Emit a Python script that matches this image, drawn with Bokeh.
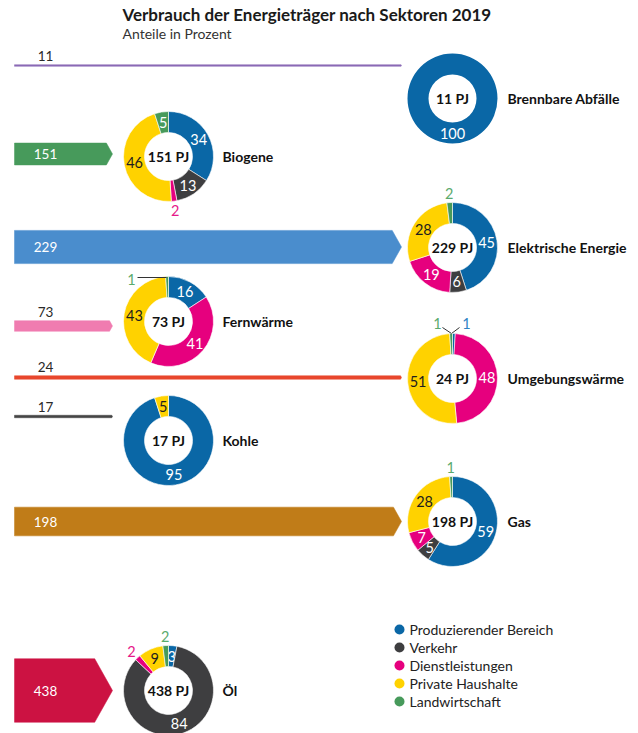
import math
from bokeh.plotting import figure
from bokeh.models import Range1d
from bokeh.core.properties import value
from bokeh.embed import file_html
from bokeh.resources import INLINE

# ---------------- data ----------------
carriers = ["Brennbare Abfälle", "Biogene", "Elektrische Energie", "Fernwärme",
            "Umgebungswärme", "Kohle", "Gas", "Öl"]
totals_pj = [11, 151, 229, 73, 24, 17, 198, 438]

sectors = ["Produzierender Bereich", "Verkehr", "Dienstleistungen",
           "Private Haushalte", "Landwirtschaft"]
share_produzierend = [100, 34, 45, 16, 1, 95, 59, 3]
share_verkehr = [0, 13, 6, 0, 0, 0, 5, 84]
share_dienstleistungen = [0, 2, 19, 41, 48, 0, 7, 2]
share_haushalte = [0, 46, 28, 43, 51, 5, 28, 9]
share_landwirtschaft = [0, 5, 2, 1, 1, 0, 1, 2]

title = "Verbrauch der Energieträger nach Sektoren 2019"
subtitle = "Anteile in Prozent"

# ---------------- styles / layout ----------------
sector_colors = ["#0a67a6", "#3e3e40", "#e6007e", "#ffd200", "#479a5b"]
sector_label_colors = ["white", "white", "white", "#1e1e1e", "white"]
outside_label_colors = ["#2f83c4", "#3e3e40", "#e6198a", "#c9a400", "#5aaa6c"]
bar_colors = ["#8a6bb6", "#479a5b", "#4a8dcd", "#f07cb0", "#e8472d",
              "#454545", "#c07c18", "#cc1242"]

side = ["R", "L", "R", "L", "R", "L", "R", "L"]
bar_cy = [65, 153.5, 246.5, 325.5, 377, 416, 521, 690]
donut_cy = [98, 156, 247, 321, 378, 440, 521, 690]
donut_cx = {"L": 168, "R": 452}
bar_end = {"L": 112, "R": 401}
name_x = {"L": 222, "R": 507}
BAR_X0 = 14
PX_PER_PJ = 0.145
R_OUT, R_IN = 45, 24
R_LABEL, R_OUTSIDE = 34.5, 54

# special placements for tiny segments (offset from ring centre, leader line)
label_override = {
    (3, 4): ((-37, -42), [(-2, -44), (-31, -44)]),
    (4, 4): ((-15, -55), [(-1, -45), (-10, -51)]),
    (4, 0): ((14, -55), [(-1, -45), (7, -51)]),
}

FONT = value("Lato")
PAGE_H = 733
W, H = 638, 733


def Y(sy):
    return PAGE_H - sy


p = figure(width=W, height=H, x_range=Range1d(0, W),
           y_range=Range1d(PAGE_H - H, PAGE_H),
           output_backend="svg", toolbar_location=None,
           x_axis_location=None, y_axis_location=None,
           min_border=0, outline_line_color=None)
p.grid.visible = False
p.background_fill_color = "white"

# ---------------- title ----------------
p.text(x=[122], y=[Y(14)], text=[title], text_font=FONT, text_font_style="bold",
       text_font_size="17px", text_color="#1a1a1a", text_baseline="middle",
       text_align="left")
p.text(x=[122], y=[Y(33)], text=[subtitle], text_font=FONT,
       text_font_size="14px", text_color="#333333", text_baseline="middle",
       text_align="left")

# ---------------- flow bars ----------------
bx, by = [], []
for i, v in enumerate(totals_pj):
    t = v * PX_PER_PJ
    xe = bar_end[side[i]]
    tip = 0.28 * t
    cy = bar_cy[i]
    bx.append([BAR_X0, xe - tip, xe, xe - tip, BAR_X0])
    by.append([Y(cy - t / 2), Y(cy - t / 2), Y(cy), Y(cy + t / 2), Y(cy + t / 2)])
p.patches(bx, by, fill_color=bar_colors, line_color=bar_colors, line_width=0.5)

for i, v in enumerate(totals_pj):
    t = v * PX_PER_PJ
    if t > 15:
        ly, col = bar_cy[i], "white"
    else:
        ly, col = bar_cy[i] - t / 2 - 8.5, "#2a2a2a"
    p.text(x=[45], y=[Y(ly)], text=[str(v)], text_font=FONT, text_font_size="13.5px",
           text_color=col, text_baseline="middle", text_align="center")

# ---------------- donuts ----------------
shares = [share_produzierend, share_verkehr, share_dienstleistungen,
          share_haushalte, share_landwirtschaft]

for i, v in enumerate(totals_pj):
    cx = donut_cx[side[i]]
    cy = donut_cy[i]
    row = [s[i] for s in shares]
    total = sum(row)
    cum = 0.0
    for k, s in enumerate(row):
        if s <= 0:
            continue
        f0 = cum / total
        f1 = (cum + s) / total
        cum += s
        a0 = math.pi / 2 - 2 * math.pi * f0
        a1 = math.pi / 2 - 2 * math.pi * f1
        if s == total:
            p.annulus(x=[cx], y=[Y(cy)], inner_radius=R_IN, outer_radius=R_OUT,
                      inner_radius_units="screen", outer_radius_units="screen",
                      fill_color=sector_colors[k], line_color=None)
        else:
            p.annular_wedge(x=[cx], y=[Y(cy)], inner_radius=R_IN, outer_radius=R_OUT,
                            inner_radius_units="screen", outer_radius_units="screen",
                            start_angle=a0, end_angle=a1, direction="clock",
                            fill_color=sector_colors[k], line_color="white",
                            line_width=0.6)
        fm = (f0 + f1) / 2
        th = 2 * math.pi * fm
        if (i, k) in label_override:
            (dx, dy), leader = label_override[(i, k)]
            lx, ly = cx + dx, cy + dy
            p.line(x=[cx + q[0] for q in leader], y=[Y(cy + q[1]) for q in leader],
                   line_color="#333333", line_width=1)
            col = outside_label_colors[k]
        elif s <= 2:
            lx = cx + R_OUTSIDE * math.sin(th)
            ly = cy - R_OUTSIDE * math.cos(th)
            col = outside_label_colors[k]
        else:
            lx = cx + R_LABEL * math.sin(th)
            ly = cy - R_LABEL * math.cos(th)
            col = sector_label_colors[k]
        p.text(x=[lx], y=[Y(ly)], text=[str(s)], text_font=FONT,
               text_font_size="14.5px", text_color=col, text_baseline="middle",
               text_align="center")

    p.text(x=[cx], y=[Y(cy)], text=[f"{v} PJ"], text_font=FONT,
           text_font_style="bold", text_font_size="14px", text_color="#111111",
           text_baseline="middle", text_align="center")
    p.text(x=[name_x[side[i]]], y=[Y(cy)], text=[carriers[i]], text_font=FONT,
           text_font_style="bold", text_font_size="14px", text_color="#111111",
           text_baseline="middle", text_align="left")

# ---------------- legend ----------------
leg_y = [629, 647, 665, 683, 701]
p.scatter(x=[399] * len(sectors), y=[Y(v) for v in leg_y], size=10,
          fill_color=sector_colors, line_color=None)
p.text(x=[409] * len(sectors), y=[Y(v) for v in leg_y], text=sectors, text_font=FONT,
       text_font_size="14px", text_color="#222222", text_baseline="middle",
       text_align="left")

open("out.html", "w").write(file_html(p, INLINE))
